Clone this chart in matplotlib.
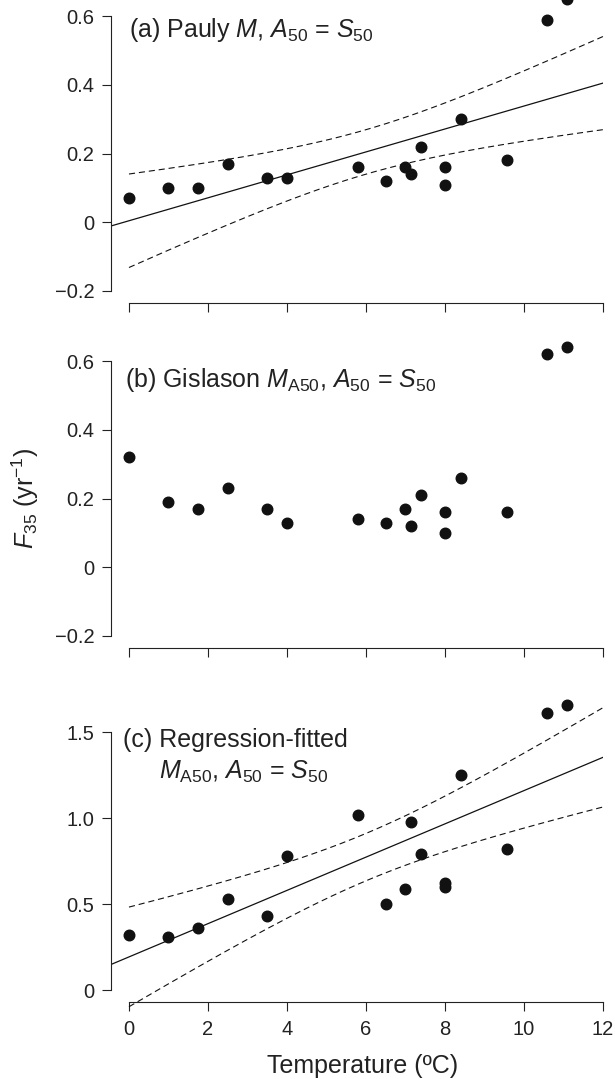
import numpy as np
import matplotlib
matplotlib.use('Agg')
import matplotlib.pyplot as plt

plt.rcParams['font.family'] = ['Liberation Sans', 'DejaVu Sans']
plt.rcParams['mathtext.fontset'] = 'custom'
plt.rcParams['mathtext.rm'] = 'Liberation Sans'
plt.rcParams['mathtext.it'] = 'Liberation Sans:italic'
plt.rcParams['mathtext.bf'] = 'Liberation Sans:bold'

# bottom temperature of each stock (deg C)
temp = [0, 1.0, 1.75, 2.5, 3.5, 4.0, 5.8, 6.5, 7.0, 7.13, 7.4, 8.0, 8.0, 8.4, 9.58, 10.57, 11.1]
# F35 (yr-1) under the three natural mortality assumptions
f_pauly = [0.07, 0.10, 0.10, 0.17, 0.13, 0.13, 0.16, 0.12, 0.16, 0.14, 0.22, 0.16, 0.11, 0.30, 0.18, 0.59, 0.65]
f_gislason = [0.32, 0.19, 0.17, 0.23, 0.17, 0.13, 0.14, 0.13, 0.17, 0.12, 0.21, 0.16, 0.10, 0.26, 0.16, 0.62, 0.64]
f_regfit = [0.32, 0.31, 0.36, 0.53, 0.43, 0.78, 1.02, 0.50, 0.59, 0.98, 0.79, 0.62, 0.60, 1.25, 0.82, 1.61, 1.66]

T_975 = 2.131  # t quantile, df = 15
LBL = 18

W, H = 615, 1079
fig = plt.figure(figsize=(W / 100, H / 100), dpi=100)

left = 111.2 / W
width = (603 - 111.2) / W
ax_a = fig.add_axes([left, 1 - 303 / H, width, 316 / H])
ax_b = fig.add_axes([left, 1 - 648 / H, width, 316 / H])
ax_c = fig.add_axes([left, 1 - 1001.7 / H, width, 316 / H])


def fit_band(ax, x, y):
    x = np.asarray(x)
    y = np.asarray(y)
    n = len(x)
    slope, icpt = np.polyfit(x, y, 1)
    resid = y - (icpt + slope * x)
    s = np.sqrt(np.sum(resid ** 2) / (n - 2))
    sxx = np.sum((x - x.mean()) ** 2)
    xl = np.array(ax.get_xlim())
    ax.plot(xl, icpt + slope * xl, color='#111111', lw=0.9)
    xg = np.linspace(0, 12, 200)
    hw = T_975 * s * np.sqrt(1 / n + (xg - x.mean()) ** 2 / sxx)
    yg = icpt + slope * xg
    for yy in (yg + hw, yg - hw):
        ax.plot(xg, yy, color='#111111', lw=0.8, ls=(0, (5.5, 3.5)), clip_on=False)


def style(ax, yticks, ylabels, xlabels):
    ax.set_xlim(-0.45, 12)
    for sp in ('top', 'right'):
        ax.spines[sp].set_visible(False)
    ax.spines['left'].set_bounds(yticks[0], yticks[-1])
    ax.spines['bottom'].set_bounds(0, 12)
    for sp in ('left', 'bottom'):
        ax.spines[sp].set_linewidth(0.8)
        ax.spines[sp].set_color('#222222')
    ax.set_yticks(yticks)
    ax.set_yticklabels(ylabels)
    ax.set_xticks(range(0, 13, 2))
    if xlabels:
        ax.set_xticklabels([str(v) for v in range(0, 13, 2)])
    else:
        ax.set_xticklabels([])
    ax.tick_params(direction='out', length=6.5, width=0.8, color='#222222',
                   labelsize=14.5, labelcolor='#222222')
    ax.tick_params(axis='y', pad=5.5)
    ax.tick_params(axis='x', pad=7)


yt = [-0.2, 0, 0.2, 0.4, 0.6]
ytl = ['\u22120.2', '0', '0.2', '0.4', '0.6']

# (a)
ax_a.set_ylim(-0.235, 0.685)
style(ax_a, yt, ytl, False)
fit_band(ax_a, temp, f_pauly)
ax_a.plot(temp, f_pauly, 'o', color='#111111', ms=7.6)
ax_a.text(0, 0.538, r'(a) Pauly $M$, $A_{50}$ = $S_{50}$', fontsize=LBL,
          va='baseline', color='#222222')

# (b)
ax_b.set_ylim(-0.235, 0.685)
style(ax_b, yt, ytl, False)
ax_b.plot(temp, f_gislason, 'o', color='#111111', ms=7.6)
ax_b.text(-0.1, 0.524, r'(b) Gislason $M_{\mathrm{A50}}$, $A_{50}$ = $S_{50}$', fontsize=LBL,
          va='baseline', color='#222222')

# (c)
ax_c.set_ylim(-0.068, 1.771)
style(ax_c, [0, 0.5, 1.0, 1.5], ['0', '0.5', '1.0', '1.5'], True)
fit_band(ax_c, temp, f_regfit)
ax_c.plot(temp, f_regfit, 'o', color='#111111', ms=7.6)
ax_c.text(-0.15, 1.416, '(c) Regression-fitted', fontsize=LBL, va='baseline', color='#222222')
ax_c.text(0.75, 1.232, r'$M_{\mathrm{A50}}$, $A_{50}$ = $S_{50}$', fontsize=LBL,
          va='baseline', color='#222222')

fig.text(25 / W, 1 - 498 / H, r'$F_{35}$ (yr$^{-1}$)', rotation=90, ha='center', va='center',
         fontsize=LBL, color='#222222')
fig.text(363 / W, 1 - 1073 / H, 'Temperature (\u00baC)', ha='center', va='baseline',
         fontsize=LBL, color='#222222')

fig.savefig('out.png', dpi=100)
